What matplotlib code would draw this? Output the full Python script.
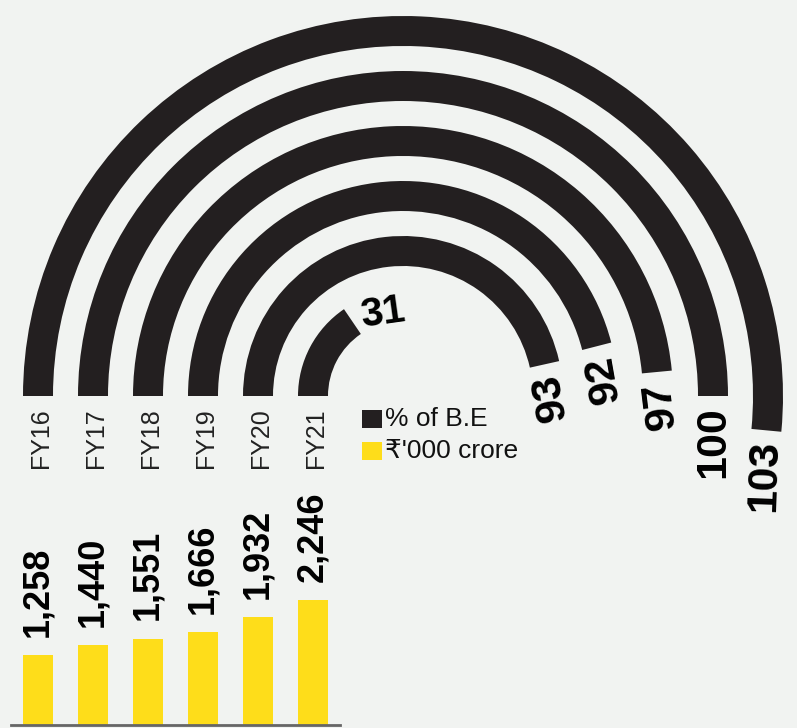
import numpy as np
import matplotlib
matplotlib.use("Agg")
import matplotlib.pyplot as plt
from matplotlib.patches import Wedge, Rectangle

# Data
roky = ["FY16", "FY17", "FY18", "FY19", "FY20", "FY21"]
percento_be = [103, 100, 97, 92, 93, 31]
hodnoty_crore = [1258, 1440, 1551, 1666, 1932, 2246]
uhly_textu = [88, 90, 97, 100, 100, 8]

# Styling
POZADIE = "#f1f3f1"
CIERNA = "#231f20"
ZLTA = "#fedd1a"
W, H = 797, 728

plt.rcParams["font.family"] = ["Liberation Sans", "DejaVu Sans"]

fig = plt.figure(figsize=(W / 100, H / 100), dpi=100, facecolor=POZADIE)

# Arc chart in pixel-like units (y upward)
ax = fig.add_axes([0, 0, 1, 1])
ax.set_xlim(0, W)
ax.set_ylim(0, H)
ax.set_facecolor(POZADIE)
ax.axis("off")

stred = (403, H - 396)
polomery = [365, 310, 255, 200, 145, 90]
hrubka = 30

for rok, pct, r, rot in zip(roky, percento_be, polomery, uhly_textu):
    koniec = 180 - pct * 1.8
    ax.add_patch(Wedge(stred, r + hrubka / 2, koniec, 180, width=hrubka,
                       facecolor=CIERNA, edgecolor="none"))
    # value label just past the end of the arc
    t = np.radians(koniec)
    ex = stred[0] + r * np.cos(t)
    ey = stred[1] + r * np.sin(t)
    d = 10
    px = ex + d * np.sin(t)
    py = ey - d * np.cos(t)
    ax.text(px, py, str(pct), rotation=rot, rotation_mode="anchor",
            ha="left" if pct < 50 else "right", va="center",
            fontsize=29 if pct < 50 else 31, fontweight="bold", color="black")
    # year label under the start of the arc
    ax.text(stred[0] - r + 3, H - 408, rok, rotation=90, ha="center", va="top",
            fontsize=18, color="#222222")

# Legend
ax.add_patch(Rectangle((362, H - 428), 20, 18, facecolor=CIERNA, edgecolor="none"))
ax.add_patch(Rectangle((362, H - 460), 20, 18, facecolor=ZLTA, edgecolor="none"))
ax.text(385, H - 419, "% of B.E", ha="left", va="center", fontsize=19, color="#111111")
ax.text(385, H - 451, "₹'000 crore", ha="left", va="center", fontsize=19, color="#111111",
        family=["Liberation Sans", "DejaVu Sans"])

# Bar chart underneath
ax2 = fig.add_axes([10.5 / W, 3 / H, 329.5 / W, 145 / H])
ax2.patch.set_alpha(0)
x = np.arange(len(roky))
ax2.bar(x, hodnoty_crore, width=30 / 55, color=ZLTA)
ax2.set_xlim(-0.5, 5.5)
ax2.set_ylim(0, 2600)
for xi, v in zip(x, hodnoty_crore):
    ax2.annotate(f"{v:,}", (xi, v), xytext=(0, 13), textcoords="offset points",
                 rotation=90, ha="center", va="bottom",
                 fontsize=26, fontweight="bold", color="black", annotation_clip=False)
for s in ["top", "right", "left"]:
    ax2.spines[s].set_visible(False)
ax2.spines["bottom"].set_color("#666666")
ax2.spines["bottom"].set_linewidth(2)
ax2.set_xticks([])
ax2.set_yticks([])

fig.savefig("out.png", dpi=100, facecolor=POZADIE)
